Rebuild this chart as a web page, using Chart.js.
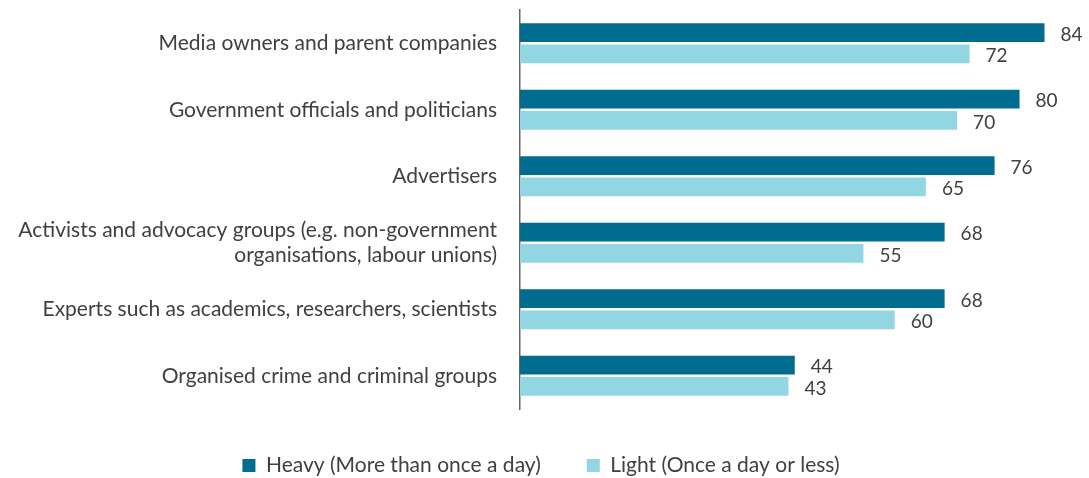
<!DOCTYPE html>
<html>
<head>
<meta charset="utf-8">
<script src="https://cdn.jsdelivr.net/npm/chart.js@4"></script>
<style>
  html, body { margin: 0; padding: 0; background: #fff; }
  #wrap { width: 1089px; height: 478px; position: relative; }
</style>
</head>
<body>
<div id="wrap"><canvas id="chart"></canvas></div>
<script>
// Who is seen as influencing the news, by news usage
var categories = [
  "Media owners and parent companies",
  "Government officials and politicians",
  "Advertisers",
  ["Activists and advocacy groups (e.g. non-government", "organisations, labour unions)"],
  "Experts such as academics, researchers, scientists",
  "Organised crime and criminal groups"
];
var heavyValues = [84, 80, 76, 68, 68, 44];
var lightValues = [72, 70, 65, 55, 60, 43];
var seriesNames = ["Heavy (More than once a day)", "Light (Once a day or less)"];

var textColor = '#404040';
var fontFamily = 'Lato, "Open Sans", sans-serif';

// value labels at the end of each bar
var valueLabels = {
  id: 'valueLabels',
  afterDatasetsDraw: function(chart) {
    var ctx = chart.ctx;
    ctx.save();
    ctx.font = '19px ' + fontFamily;
    ctx.fillStyle = textColor;
    ctx.textAlign = 'left';
    ctx.textBaseline = 'middle';
    chart.data.datasets.forEach(function(ds, i) {
      chart.getDatasetMeta(i).data.forEach(function(bar, j) {
        ctx.fillText(ds.data[j], bar.x + 16, bar.y + 2);
      });
    });
    ctx.restore();
  }
};

var canvas = document.getElementById('chart').getContext('2d');
window.bars = new Chart(canvas, {
  type: 'bar',
  data: {
    labels: categories,
    datasets: [{
      label: seriesNames[0],
      data: heavyValues,
      backgroundColor: '#006c8f',
      categoryPercentage: 0.64,
      barPercentage: 0.88
    }, {
      label: seriesNames[1],
      data: lightValues,
      backgroundColor: '#93d6e3',
      categoryPercentage: 0.64,
      barPercentage: 0.88
    }]
  },
  options: {
    indexAxis: 'y',
    responsive: true,
    maintainAspectRatio: false,
    animation: false,
    layout: { padding: { top: 10, right: 7, left: 0, bottom: -8 } },
    scales: {
      x: {
        display: false,
        min: 0,
        max: 90
      },
      y: {
        grid: { display: false },
        border: { display: true, color: '#666', width: 1.5 },
        ticks: {
          color: textColor,
          font: { family: fontFamily, size: 21 },
          padding: 15
        },
        afterFit: function(scale) {
          scale.width = 520;
          scale.paddingTop = 0;
          scale.paddingBottom = 0;
        }
      }
    },
    plugins: {
      legend: {
        position: 'bottom',
        labels: {
          color: textColor,
          font: { family: fontFamily, size: 21 },
          boxWidth: 13,
          boxHeight: 13,
          padding: 46
        }
      },
      tooltip: { enabled: false }
    }
  },
  plugins: [valueLabels]
});
</script>
</body>
</html>
